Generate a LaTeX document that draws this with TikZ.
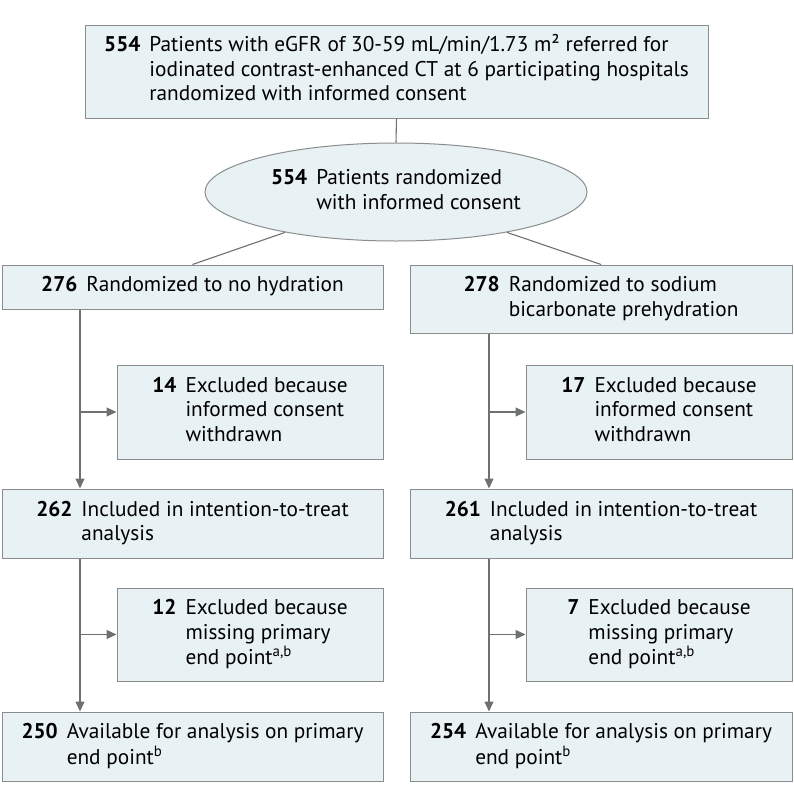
\documentclass[tikz,border=0pt]{standalone}
\usepackage{fontspec}
\setmainfont{PT Sans}
\usetikzlibrary{arrows.meta,shapes.geometric}
\definecolor{boxfill}{HTML}{E8F1F3}
\definecolor{boxdraw}{HTML}{8A8C8E}
\definecolor{linecol}{HTML}{6E7072}
\newcommand{\flowtext}[2]{\begin{tabular}{@{}r@{\hspace{9pt}}l@{}}\textbf{#1} & #2\end{tabular}}
\tikzset{
  fbox/.style={draw=boxdraw, fill=boxfill, line width=1pt, rectangle, inner sep=0pt, align=center,
    font=\fontsize{21.3}{24.5}\selectfont},
  fell/.style={draw=boxdraw, fill=boxfill, line width=1pt, ellipse, inner sep=0pt, align=center,
    font=\fontsize{21.3}{24.5}\selectfont},
  conn/.style={draw=linecol, line width=1.1pt},
  arr/.style={conn, -{Triangle[width=9pt,length=10pt]}, linecol}
}
\begin{document}
\begin{tikzpicture}[x=1pt,y=1pt]
\useasboundingbox (0,0) rectangle (794,-801);
% nodes
\node[fbox, minimum width=623, minimum height=93] (top) at (396.5,-71.5)
  {\flowtext{554}{Patients with eGFR of 30-59 mL/min/1.73 m² referred for\\ & iodinated contrast-enhanced CT at 6 participating hospitals\\ & randomized with informed consent}};
\node[fell, minimum width=382, minimum height=98] (ell) at (396,-192)
  {\flowtext{554}{Patients randomized\\ & with informed consent}};
\node[fbox, minimum width=381, minimum height=44] (L1) at (192.5,-287)
  {\flowtext{276}{Randomized to no hydration}};
\node[fbox, minimum width=382, minimum height=68] (R1) at (601,-299)
  {\flowtext{278}{Randomized to sodium\\ & bicarbonate prehydration}};
\node[fbox, minimum width=266, minimum height=94] (LE1) at (250,-412)
  {\flowtext{14}{Excluded because\\ & informed consent\\ & withdrawn}};
\node[fbox, minimum width=266, minimum height=94] (RE1) at (659,-412)
  {\flowtext{17}{Excluded because\\ & informed consent\\ & withdrawn}};
\node[fbox, minimum width=381, minimum height=69] (L2) at (192.5,-523.5)
  {\flowtext{262}{Included in intention-to-treat\\ & analysis}};
\node[fbox, minimum width=382, minimum height=69] (R2) at (601,-523.5)
  {\flowtext{261}{Included in intention-to-treat\\ & analysis}};
\node[fbox, minimum width=266, minimum height=93] (LE2) at (250,-634.5)
  {\flowtext{12}{Excluded because\\ & missing primary\\ & end point\textsuperscript{a,b}}};
\node[fbox, minimum width=266, minimum height=93] (RE2) at (659,-634.5)
  {\flowtext{7}{Excluded because\\ & missing primary\\ & end point\textsuperscript{a,b}}};
\node[fbox, minimum width=381, minimum height=69] (L3) at (192.5,-746.5)
  {\flowtext{250}{Available for analysis on primary\\ & end point\textsuperscript{b}}};
\node[fbox, minimum width=382, minimum height=69] (R3) at (601,-746.5)
  {\flowtext{254}{Available for analysis on primary\\ & end point\textsuperscript{b}}};
% trunk coordinates
\coordinate (lx) at (80,0);
\coordinate (rx) at (489,0);
% connectors
\draw[conn] (top.south) -- (ell.north);
\draw[conn] (ell.200) -- (L1.north);
\draw[conn] (ell.340) -- (R1.north);
\draw[arr] (L1.south -| lx) -- (L2.north -| lx);
\draw[arr] (LE1.west -| lx) -- (LE1.west);
\draw[arr] (R1.south -| rx) -- (R2.north -| rx);
\draw[arr] (RE1.west -| rx) -- (RE1.west);
\draw[arr] (L2.south -| lx) -- (L3.north -| lx);
\draw[arr] (LE2.west -| lx) -- (LE2.west);
\draw[arr] (R2.south -| rx) -- (R3.north -| rx);
\draw[arr] (RE2.west -| rx) -- (RE2.west);
\end{tikzpicture}
\end{document}
